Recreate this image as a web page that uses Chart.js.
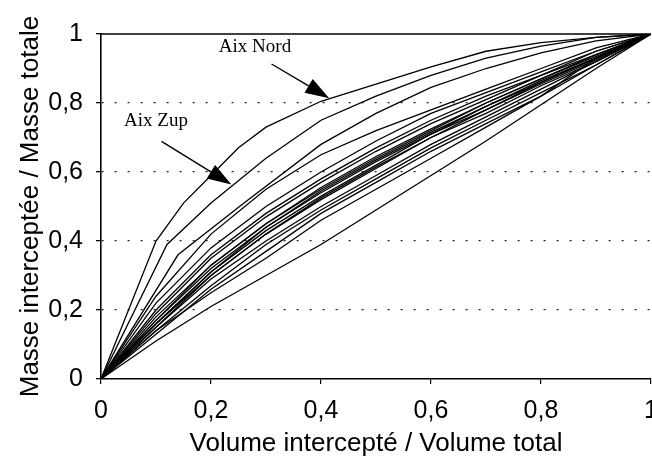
<!DOCTYPE html>
<html>
<head>
<meta charset="utf-8">
<script src="https://cdn.jsdelivr.net/npm/chart.js@4"></script>
<style>
  html, body { margin: 0; padding: 0; background: #fff; overflow: hidden; }
  #wrap { width: 680px; height: 462px; }
</style>
</head>
<body>
<div id="wrap"><canvas id="line-chart"></canvas></div>
<script>
// volume fraction on the x axis, mass fraction on the y axis
const xsStd = [0, 0.1, 0.2, 0.3, 0.4, 0.5, 0.6, 0.7, 0.8, 0.9, 1];

const aixNordX = [0, 0.1, 0.15, 0.2, 0.25, 0.3, 0.4, 0.5, 0.6, 0.7, 0.8, 0.9, 1];
const aixNordY = [0, 0.40, 0.51, 0.59, 0.67, 0.73, 0.805, 0.855, 0.905, 0.95, 0.975, 0.99, 1];

const aixZupX = [0, 0.12, 0.2, 0.3, 0.4, 0.5, 0.6, 0.7, 0.8, 0.9, 1];
const aixZupY = [0, 0.39, 0.51, 0.64, 0.75, 0.82, 0.88, 0.93, 0.965, 0.99, 1];

const site3X = [0, 0.14, 0.26, 0.4, 0.5, 0.6, 0.7, 0.8, 0.9, 1];
const site3Y = [0, 0.36, 0.51, 0.68, 0.77, 0.845, 0.90, 0.945, 0.98, 1];

// other sites, all read at xsStd
const site4 = [0, 0.24, 0.42, 0.55, 0.65, 0.72, 0.78, 0.84, 0.90, 0.96, 1];
const site5 = [0, 0.22, 0.38, 0.50, 0.60, 0.69, 0.77, 0.83, 0.89, 0.95, 1];
const site6 = [0, 0.20, 0.36, 0.48, 0.58, 0.67, 0.75, 0.82, 0.88, 0.95, 1];
const site7 = [0, 0.19, 0.35, 0.47, 0.57, 0.66, 0.74, 0.81, 0.88, 0.94, 1];
const site8 = [0, 0.18, 0.33, 0.45, 0.55, 0.64, 0.72, 0.80, 0.87, 0.94, 1];
const site9 = [0, 0.17, 0.32, 0.44, 0.54, 0.63, 0.71, 0.79, 0.86, 0.93, 1];
const site10 = [0, 0.16, 0.31, 0.43, 0.53, 0.62, 0.71, 0.78, 0.86, 0.93, 1];
const site11 = [0, 0.16, 0.30, 0.42, 0.52, 0.61, 0.70, 0.77, 0.85, 0.92, 1];
const site12 = [0, 0.15, 0.29, 0.40, 0.50, 0.59, 0.68, 0.76, 0.84, 0.92, 1];
const site13 = [0, 0.14, 0.27, 0.39, 0.49, 0.58, 0.67, 0.75, 0.83, 0.91, 1];
const site14 = [0, 0.13, 0.26, 0.37, 0.48, 0.57, 0.66, 0.74, 0.82, 0.91, 1];
const site15 = [0, 0.14, 0.25, 0.35, 0.46, 0.55, 0.64, 0.73, 0.82, 0.93, 1];
const site16 = [0, 0.11, 0.21, 0.30, 0.39, 0.49, 0.59, 0.69, 0.795, 0.90, 1];
const site17 = [0, 0.17, 0.33, 0.45, 0.555, 0.645, 0.725, 0.80, 0.87, 0.935, 1];
const site18 = [0, 0.15, 0.30, 0.42, 0.525, 0.615, 0.70, 0.78, 0.855, 0.925, 1];
const site19 = [0, 0.16, 0.31, 0.44, 0.545, 0.635, 0.715, 0.79, 0.865, 0.93, 1];

const yTicks = [0, 0.2, 0.4, 0.6, 0.8, 1];
const xTicks = [0, 0.2, 0.4, 0.6, 0.8, 1];

// text notes with arrows, in data units
const notes = [
  { text: 'Aix Nord', at: [0.28, 0.962], from: [0.31, 0.913], to: [0.415, 0.814] },
  { text: 'Aix Zup', at: [0.10, 0.747], from: [0.11, 0.689], to: [0.237, 0.564] }
];

function pairs(xs, ys) {
  return xs.map(function (x, i) { return { x: x, y: ys[i] }; });
}

let series = [pairs(aixNordX, aixNordY), pairs(aixZupX, aixZupY), pairs(site3X, site3Y)];
[site4, site5, site6, site7, site8, site9, site10, site11, site12, site13, site14, site15, site16,
  site17, site18, site19]
  .forEach(function (s) { series.push(pairs(xsStd, s)); });

let datasets = series.map(function (d) {
  return {
    data: d,
    showLine: true,
    borderColor: '#000',
    borderWidth: 1.3,
    pointRadius: 0,
    fill: false,
    tension: 0
  };
});

function comma(v) {
  return String(Math.round(v * 10) / 10).replace('.', ',');
}

const notesPlugin = {
  id: 'notes',
  afterDatasetsDraw(chart) {
    const ctx = chart.ctx;
    const area = chart.chartArea;
    const x = chart.scales.x, y = chart.scales.y;
    ctx.save();
    // solid frame line at the top (y = 1)
    ctx.strokeStyle = '#000';
    ctx.lineWidth = 1.5;
    ctx.beginPath();
    ctx.moveTo(area.left, y.getPixelForValue(1));
    ctx.lineTo(area.right, y.getPixelForValue(1));
    ctx.stroke();

    ctx.font = '19px "Liberation Serif", "Times New Roman", serif';
    ctx.fillStyle = '#000';
    ctx.textAlign = 'center';
    ctx.textBaseline = 'middle';
    notes.forEach(function (n) {
      ctx.fillText(n.text, x.getPixelForValue(n.at[0]), y.getPixelForValue(n.at[1]));
      const x0 = x.getPixelForValue(n.from[0]), y0 = y.getPixelForValue(n.from[1]);
      const x1 = x.getPixelForValue(n.to[0]), y1 = y.getPixelForValue(n.to[1]);
      const ang = Math.atan2(y1 - y0, x1 - x0);
      const len = 24, half = 8;
      const bx = x1 - len * Math.cos(ang), by = y1 - len * Math.sin(ang);
      ctx.lineWidth = 1.4;
      ctx.beginPath();
      ctx.moveTo(x0, y0);
      ctx.lineTo(bx, by);
      ctx.stroke();
      ctx.beginPath();
      ctx.moveTo(x1, y1);
      ctx.lineTo(bx + half * Math.sin(ang), by - half * Math.cos(ang));
      ctx.lineTo(bx - half * Math.sin(ang), by + half * Math.cos(ang));
      ctx.closePath();
      ctx.fill();
    });
    ctx.restore();
  }
};

new Chart(document.getElementById('line-chart'), {
  type: 'scatter',
  data: { datasets: datasets },
  plugins: [notesPlugin],
  options: {
    responsive: true,
    maintainAspectRatio: false,
    animation: false,
    layout: { padding: { top: 34, right: 29, left: 0, bottom: 0 } },
    plugins: { legend: { display: false }, tooltip: { enabled: false } },
    scales: {
      x: {
        type: 'linear',
        min: 0,
        max: 1,
        afterFit: function (scale) { scale.height = 83; },
        afterBuildTicks: function (scale) { scale.ticks = xTicks.map(function (v) { return { value: v }; }); },
        grid: { drawOnChartArea: false, tickLength: 5, color: '#000', lineWidth: 1.2 },
        border: { color: '#000', width: 1.6 },
        ticks: {
          padding: 12,
          color: '#000',
          font: { family: '"Liberation Sans", Arial, sans-serif', size: 25 },
          callback: function (v) { return comma(v); }
        },
        title: {
          display: true,
          text: 'Volume intercepté / Volume total',
          color: '#000',
          font: { family: '"Liberation Sans", Arial, sans-serif', size: 26 },
          padding: { top: 0, bottom: 3 }
        }
      },
      y: {
        type: 'linear',
        min: 0,
        max: 1,
        afterFit: function (scale) { scale.width = 101; },
        afterBuildTicks: function (scale) { scale.ticks = yTicks.map(function (v) { return { value: v }; }); },
        grid: {
          tickLength: 5,
          lineWidth: 1.3,
          color: function (c) {
            const v = c.tick ? c.tick.value : 0;
            return (v > 0.01 && v < 0.99) ? '#222' : 'rgba(0,0,0,0)';
          },
          tickColor: '#000'
        },
        border: { color: '#000', width: 1.6, dash: [2, 11] },
        ticks: {
          padding: 13,
          color: '#000',
          font: { family: '"Liberation Sans", Arial, sans-serif', size: 25 },
          callback: function (v) { return comma(v); }
        },
        title: {
          display: true,
          text: 'Masse interceptée / Masse totale',
          color: '#000',
          font: { family: '"Liberation Sans", Arial, sans-serif', size: 26 },
          padding: { top: 15, bottom: 0 }
        }
      }
    }
  }
});
</script>
</body>
</html>
